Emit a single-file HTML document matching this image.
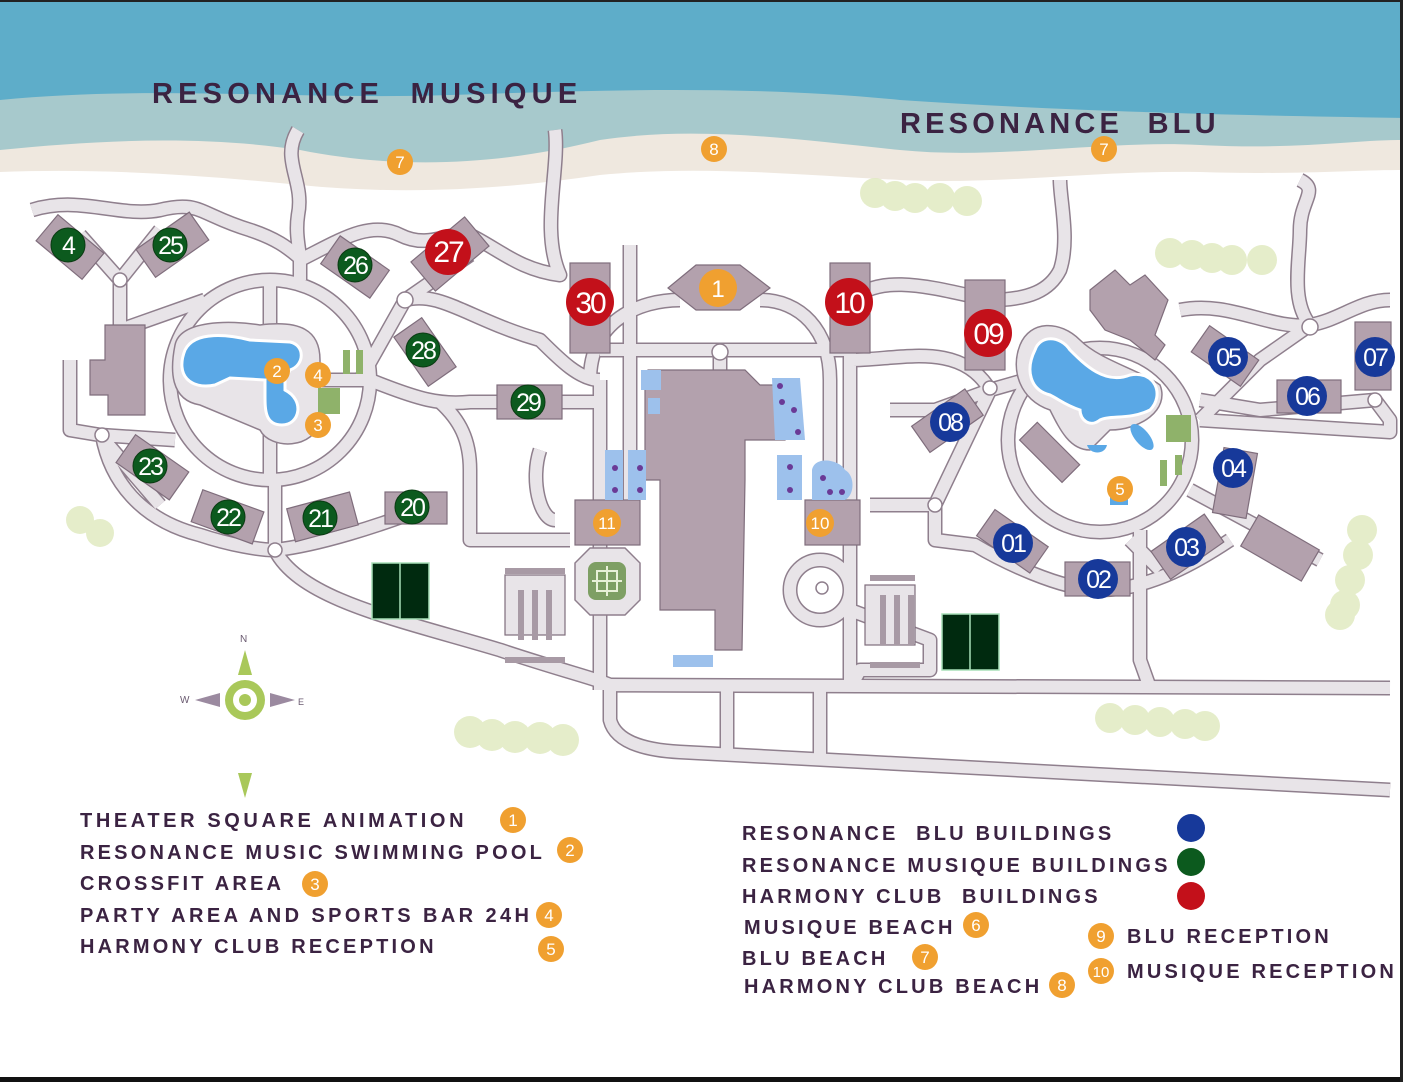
<!DOCTYPE html>
<html><head><meta charset="utf-8"><style>
html,body{margin:0;padding:0;background:#fff}
svg{display:block}
text{font-family:"Liberation Sans",sans-serif}
.lg{font-weight:bold;font-size:20px;letter-spacing:3.2px;fill:#3b2342}
.mk{fill:#fff;font-size:25px;text-anchor:middle;letter-spacing:-2px}
.om{fill:#fff;font-size:17px;text-anchor:middle}
</style></head><body>
<svg width="1403" height="1082" viewBox="0 0 1403 1082" xmlns="http://www.w3.org/2000/svg">
<defs>
<g id="roads">
<circle cx="270" cy="380" r="100"/>
<circle cx="1100" cy="440" r="92"/>
<path d="M32,210 C80,195 120,218 160,210 C200,200 200,215 250,230 C280,240 290,250 300,258"/>
<path d="M120,280 L160,230 M120,280 L80,235 M120,280 L120,330 L205,300"/>
<path d="M300,260 L300,280 M298,130 C280,160 305,180 298,215 C295,235 300,250 300,260"/>
<path d="M300,260 C340,240 370,220 400,235 C430,250 450,230 470,235 C500,250 520,270 560,275 C540,230 560,170 555,130"/>
<path d="M405,300 C440,290 470,320 540,340 C560,360 580,380 600,380"/>
<path d="M360,380 L405,300 M405,300 L470,255"/>
<path d="M70,360 L70,430 L100,435 L175,440 M100,435 L160,505 M275,480 L275,550 M102,435 C110,480 140,520 200,535 C230,545 260,550 275,550 C320,545 380,525 420,510"/>
<path d="M270,280 L270,480 M170,380 L370,380"/>
<path d="M370,380 C420,400 440,405 470,402 L600,402"/>
<path d="M440,402 C460,420 470,440 470,470 L470,540 L570,540"/>
<path d="M275,550 C300,600 400,620 500,650 C560,670 600,680 610,685"/>
<path d="M610,685 L1390,688 M610,685 L610,720 C615,740 640,750 680,752 L1390,790"/>
<path d="M727,688 L727,752 M820,688 L820,755"/>
<path d="M600,380 L600,690 M630,245 L630,530 M600,350 L850,350 M590,380 C590,320 640,300 680,300 M760,300 C800,300 830,330 830,380 L830,530"/>
<path d="M850,300 L850,680 M850,360 C900,360 960,340 990,390 M850,302 C880,270 940,290 990,300 C1030,300 1050,290 1060,270 C1070,240 1060,200 1060,180"/>
<path d="M990,390 L1025,380 M990,390 L935,410 L890,410 M990,390 L935,505 L870,505"/>
<path d="M935,505 L935,540 L975,545 C1000,560 1060,590 1100,590 C1150,590 1200,560 1230,540 M1140,530 L1140,660 L1150,688"/>
<path d="M1180,310 C1230,300 1270,330 1310,325 C1340,320 1360,300 1390,300 M1310,325 C1290,300 1300,260 1300,230 C1300,200 1320,190 1300,180 M1310,325 L1260,360 L1200,420 M1200,400 L1260,410 L1375,400 L1390,420 L1390,432 L1200,420"/>
<path d="M1190,490 L1320,560 M1130,540 L1160,570"/>
<path d="M540,450 C530,480 540,520 555,520 M720,350 L720,370"/>
<path d="M820,590 m-30,0 a30,30 0 1,0 60,0 a30,30 0 1,0 -60,0 M850,610 L930,640 L930,670 L860,670 L850,688"/>
</g>
</defs>

<rect x="0" y="0" width="1403" height="200" fill="#5eadc9"/>
<path d="M0,100 C150,85 300,100 450,95 C600,90 750,85 900,100 C1050,110 1200,115 1403,118 L1403,200 L0,200 Z" fill="#a7c9cc"/>
<path d="M0,150 C100,140 200,135 300,150 C400,170 500,165 600,140 C700,125 800,140 900,150 C1000,160 1100,140 1200,145 C1300,150 1350,140 1403,140 L1403,200 L0,200 Z" fill="#efe8df"/>
<path d="M0,172 C100,168 200,175 300,185 C400,195 500,190 600,175 C700,165 800,175 900,180 C1000,185 1100,170 1200,172 C1300,175 1350,170 1403,170 L1403,210 L0,210 Z" fill="#fff"/>
<rect x="0" y="0" width="1403" height="2" fill="#222"/>

<g fill="#dfe9bd" opacity="0.8">
<circle cx="875" cy="193" r="15"/><circle cx="895" cy="196" r="15"/><circle cx="915" cy="198" r="15"/><circle cx="940" cy="198" r="15"/><circle cx="967" cy="201" r="15"/>
<circle cx="1170" cy="253" r="15"/><circle cx="1192" cy="255" r="15"/><circle cx="1212" cy="258" r="15"/><circle cx="1232" cy="260" r="15"/><circle cx="1262" cy="260" r="15"/>
<circle cx="80" cy="520" r="14"/><circle cx="100" cy="533" r="14"/>
<circle cx="470" cy="732" r="16"/><circle cx="492" cy="735" r="16"/><circle cx="515" cy="737" r="16"/><circle cx="540" cy="738" r="16"/><circle cx="563" cy="740" r="16"/>
<circle cx="1110" cy="718" r="15"/><circle cx="1135" cy="720" r="15"/><circle cx="1160" cy="722" r="15"/><circle cx="1185" cy="724" r="15"/><circle cx="1205" cy="726" r="15"/>
<circle cx="1362" cy="530" r="15"/><circle cx="1358" cy="555" r="15"/><circle cx="1350" cy="580" r="15"/><circle cx="1345" cy="605" r="15"/><circle cx="1340" cy="615" r="15"/>
</g>

<use href="#roads" fill="none" stroke="#8f7f8d" stroke-width="15" stroke-linejoin="round"/>
<use href="#roads" fill="none" stroke="#e8e4e8" stroke-width="12" stroke-linejoin="round"/>
<g fill="#fff" stroke="#8f7f8d" stroke-width="1.5">
<circle cx="120" cy="280" r="7"/><circle cx="405" cy="300" r="8"/><circle cx="102" cy="435" r="7"/><circle cx="275" cy="550" r="7"/><circle cx="990" cy="388" r="7"/><circle cx="935" cy="505" r="7"/><circle cx="1310" cy="327" r="8"/><circle cx="1375" cy="400" r="7"/><circle cx="720" cy="352" r="8"/><circle cx="822" cy="588" r="6"/>
</g>

<path d="M175,345 C180,320 230,320 260,325 C300,320 320,330 320,360 L320,420 C315,450 270,450 260,430 L200,405 C170,400 170,370 175,345Z" fill="#e8e4e8" stroke="#8f7f8d" stroke-width="1.5"/>
<path d="M185,350 C195,330 230,335 250,340 L290,342 C305,345 305,365 290,370 L285,380 L285,390 C305,400 300,425 282,425 C265,425 265,410 265,395 L265,380 L230,378 L215,385 C190,390 175,375 185,350Z" fill="#5aa8e6" stroke="#fff" stroke-width="3"/>
<path d="M1020,345 C1030,320 1060,320 1080,340 C1100,360 1140,370 1160,385 C1170,410 1140,430 1110,430 L1090,450 C1070,450 1060,430 1050,410 C1020,400 1010,370 1020,345Z" fill="#e8e4e8" stroke="#8f7f8d" stroke-width="1.5"/>
<path d="M1035,350 C1040,335 1060,335 1070,350 C1085,365 1105,385 1130,375 C1155,370 1165,395 1150,410 C1130,420 1110,415 1100,420 C1090,428 1080,420 1080,410 C1065,405 1060,400 1050,395 C1030,390 1025,370 1035,350Z" fill="#5aa8e6" stroke="#fff" stroke-width="3"/>
<ellipse cx="1142" cy="437" rx="7" ry="16" transform="rotate(-40 1142 437)" fill="#5aa8e6"/>
<path d="M1087,445 L1107,445 C1105,455 1090,455 1087,445Z" fill="#5aa8e6"/>

<g fill="#b3a1ad" stroke="#7f6d7c" stroke-width="1.2">
<rect x="40" y="230" width="60" height="34" transform="rotate(40 70 247)"/>
<rect x="140" y="228" width="65" height="34" transform="rotate(-35 172 245)"/>
<rect x="325" y="250" width="60" height="34" transform="rotate(35 355 267)"/>
<rect x="415" y="235" width="70" height="38" transform="rotate(-40 450 254)"/>
<path d="M105,325 L145,325 L145,415 L108,415 L108,395 L90,395 L90,360 L105,360Z"/>
<rect x="395" y="335" width="60" height="34" transform="rotate(55 425 352)"/>
<rect x="497" y="385" width="65" height="34"/>
<rect x="120" y="450" width="65" height="34" transform="rotate(35 152 467)"/>
<rect x="195" y="500" width="65" height="34" transform="rotate(20 228 517)"/>
<rect x="290" y="500" width="65" height="34" transform="rotate(-15 322 517)"/>
<rect x="385" y="492" width="62" height="32"/>
<rect x="570" y="263" width="40" height="90"/>
<rect x="830" y="263" width="40" height="90"/>
<rect x="965" y="280" width="40" height="90"/>
<path d="M696,265 L740,265 L770,288 L740,310 L696,310 L668,288Z"/>
<path d="M648,370 L745,370 L760,385 L785,385 L785,440 L745,440 L745,475 L745,480 L742,650 L715,650 L715,610 L660,610 L660,480 L645,480 L645,385Z"/>
<rect x="575" y="500" width="65" height="45"/>
<rect x="805" y="500" width="55" height="45"/>
<path d="M1090,290 L1115,270 L1130,285 L1145,275 L1168,300 L1155,335 L1165,345 L1155,360 L1130,340 L1105,330 L1090,310Z"/>
<rect x="1020" y="440" width="60" height="25" transform="rotate(45 1050 452)"/>
<rect x="1195" y="340" width="60" height="32" transform="rotate(35 1225 356)"/>
<rect x="1355" y="322" width="36" height="68"/>
<rect x="1277" y="380" width="64" height="33"/>
<rect x="915" y="405" width="65" height="32" transform="rotate(-35 947 421)"/>
<rect x="1218" y="450" width="34" height="66" transform="rotate(10 1235 483)"/>
<rect x="1245" y="530" width="70" height="36" transform="rotate(30 1280 548)"/>
<rect x="980" y="525" width="65" height="32" transform="rotate(35 1012 541)"/>
<rect x="1065" y="562" width="65" height="34"/>
<rect x="1155" y="530" width="65" height="34" transform="rotate(-35 1187 547)"/>
<rect x="505" y="575" width="60" height="60" fill="#e8e4e8"/>
<rect x="865" y="585" width="50" height="60" fill="#e8e4e8"/>
</g>
<g fill="#a89aa5">
<rect x="518" y="590" width="6" height="50"/><rect x="532" y="590" width="6" height="50"/><rect x="546" y="590" width="6" height="50"/>
<rect x="880" y="595" width="6" height="50"/><rect x="894" y="595" width="6" height="50"/><rect x="908" y="595" width="6" height="50"/>
<rect x="505" y="568" width="60" height="6"/><rect x="505" y="657" width="60" height="6"/>
<rect x="870" y="575" width="45" height="6"/><rect x="870" y="662" width="50" height="6"/>
</g>
<path d="M590,548 L625,548 L640,563 L640,600 L625,615 L590,615 L575,600 L575,563Z" fill="#e8e4e8" stroke="#8f7f8d" stroke-width="1.5"/>
<rect x="588" y="562" width="38" height="38" rx="8" fill="#7e9f64"/>
<path d="M592,581 H622 M607,566 V596 M597,571 H617 V591 H597Z" stroke="#e8f0d8" stroke-width="2" fill="none"/>
<g fill="#9dc1ec">
<rect x="641" y="370" width="20" height="20"/><rect x="648" y="398" width="12" height="16"/>
<rect x="605" y="450" width="18" height="50"/><rect x="628" y="450" width="18" height="50"/>
<path d="M772,378 L800,378 L805,440 L775,440Z"/><rect x="777" y="455" width="25" height="45"/>
<path d="M812,470 C815,455 840,460 845,470 C855,475 855,495 845,500 L812,500Z"/>
<rect x="673" y="655" width="40" height="12"/>
</g>
<g fill="#6a3a96">
<circle cx="780" cy="386" r="3"/><circle cx="782" cy="402" r="3"/><circle cx="794" cy="410" r="3"/><circle cx="798" cy="432" r="3"/>
<circle cx="615" cy="468" r="3"/><circle cx="615" cy="490" r="3"/><circle cx="640" cy="468" r="3"/><circle cx="640" cy="490" r="3"/>
<circle cx="790" cy="467" r="3"/><circle cx="790" cy="490" r="3"/><circle cx="823" cy="478" r="3"/><circle cx="830" cy="492" r="3"/><circle cx="842" cy="492" r="3"/>
</g>
<g fill="#8fb26a">
<rect x="343" y="350" width="7" height="24"/><rect x="356" y="350" width="7" height="24"/><rect x="318" y="388" width="22" height="26"/>
<rect x="1166" y="415" width="25" height="27"/><rect x="1160" y="460" width="7" height="26"/><rect x="1175" y="455" width="7" height="20"/>
</g>
<rect x="1110" y="490" width="18" height="15" fill="#5aa8e6"/>
<g stroke="#a8e0b8" stroke-width="1.5" fill="#002a0f">
<rect x="372" y="563" width="57" height="56"/><line x1="400" y1="563" x2="400" y2="619"/>
<rect x="942" y="614" width="57" height="56"/><line x1="970" y1="614" x2="970" y2="670"/>
</g>

<g fill="#0c5a1e" stroke="#0a3a12" stroke-width="1">
<circle cx="68" cy="245" r="17"/><circle cx="170" cy="245" r="17"/><circle cx="355" cy="265" r="17"/><circle cx="423" cy="350" r="17"/><circle cx="528" cy="402" r="17"/><circle cx="150" cy="466" r="17"/><circle cx="228" cy="517" r="17"/><circle cx="320" cy="518" r="17"/><circle cx="412" cy="507" r="17"/>
</g>
<g fill="#c3101a"><circle cx="448" cy="252" r="23"/><circle cx="590" cy="302" r="24"/><circle cx="849" cy="302" r="24"/><circle cx="988" cy="333" r="24"/></g>
<g fill="#17399a"><circle cx="1228" cy="357" r="20"/><circle cx="1375" cy="357" r="20"/><circle cx="1307" cy="396" r="20"/><circle cx="950" cy="422" r="20"/><circle cx="1233" cy="468" r="20"/><circle cx="1013" cy="543" r="20"/><circle cx="1098" cy="579" r="20"/><circle cx="1186" cy="547" r="20"/></g>
<g class="mk">
<text x="68" y="254">4</text><text x="170" y="254">25</text><text x="355" y="274">26</text><text x="423" y="359">28</text><text x="528" y="411">29</text><text x="150" y="475">23</text><text x="228" y="526">22</text><text x="320" y="527">21</text><text x="412" y="516">20</text>
<text x="448" y="262" font-size="30">27</text><text x="590" y="313" font-size="30">30</text><text x="849" y="313" font-size="30">10</text><text x="988" y="344" font-size="30">09</text>
<text x="1228" y="366">05</text><text x="1375" y="366">07</text><text x="1307" y="405">06</text><text x="950" y="431">08</text><text x="1233" y="477">04</text><text x="1013" y="552">01</text><text x="1098" y="588">02</text><text x="1186" y="556">03</text>
</g>
<g fill="#f0a030"><circle cx="400" cy="162" r="13"/><circle cx="714" cy="149" r="13"/><circle cx="1104" cy="149" r="13"/><circle cx="718" cy="288" r="19"/><circle cx="277" cy="371" r="13"/><circle cx="318" cy="375" r="13"/><circle cx="318" cy="425" r="13"/><circle cx="607" cy="523" r="14"/><circle cx="820" cy="523" r="14"/><circle cx="1120" cy="489" r="13"/></g>
<g class="om">
<text x="400" y="168">7</text><text x="714" y="155">8</text><text x="1104" y="155">7</text><text x="718" y="297" font-size="24">1</text><text x="277" y="377">2</text><text x="318" y="381">4</text><text x="318" y="431">3</text><text x="607" y="529">11</text><text x="820" y="529">10</text><text x="1120" y="495">5</text>
</g>

<text x="152" y="103" class="lg" style="font-size:29px;letter-spacing:5.2px">RESONANCE&#160;&#160;MUSIQUE</text>
<text x="900" y="133" class="lg" style="font-size:29px;letter-spacing:4.2px">RESONANCE&#160;&#160;BLU</text>

<g>
<polygon points="245,650 238,675 252,675" fill="#a9c85a"/>
<polygon points="195,700 220,693 220,707" fill="#9b8aa0"/>
<polygon points="295,700 270,693 270,707" fill="#9b8aa0"/>
<polygon points="245,798 238,773 252,773" fill="#a9c85a"/>
<circle cx="245" cy="700" r="20" fill="#a9c85a"/><circle cx="245" cy="700" r="12" fill="#fff"/><circle cx="245" cy="700" r="6" fill="#a9c85a"/>
<text x="240" y="642" font-size="10" fill="#6a5a70">N</text><text x="180" y="703" font-size="10" fill="#6a5a70">W</text><text x="298" y="705" font-size="9" fill="#6a5a70">E</text>
</g>

<g class="lg">
<text x="80" y="827" style="letter-spacing:3.6px">THEATER SQUARE ANIMATION</text>
<text x="80" y="859">RESONANCE MUSIC SWIMMING POOL</text>
<text x="80" y="890">CROSSFIT AREA</text>
<text x="80" y="922" style="letter-spacing:3.4px">PARTY AREA AND SPORTS BAR 24H</text>
<text x="80" y="953">HARMONY CLUB RECEPTION</text>
<text x="742" y="840">RESONANCE&#160; BLU BUILDINGS</text>
<text x="742" y="872">RESONANCE MUSIQUE BUILDINGS</text>
<text x="742" y="903">HARMONY CLUB&#160; BUILDINGS</text>
<text x="744" y="934">MUSIQUE BEACH</text>
<text x="742" y="965">BLU BEACH</text>
<text x="744" y="993">HARMONY CLUB BEACH</text>
<text x="1127" y="943">BLU RECEPTION</text>
<text x="1127" y="978">MUSIQUE RECEPTION</text>
</g>
<circle cx="1191" cy="828" r="14" fill="#17399a"/><circle cx="1191" cy="862" r="14" fill="#0c5a1e"/><circle cx="1191" cy="896" r="14" fill="#c3101a"/>
<g fill="#f0a030"><circle cx="513" cy="820" r="13"/><circle cx="570" cy="850" r="13"/><circle cx="315" cy="884" r="13"/><circle cx="549" cy="915" r="13"/><circle cx="551" cy="949" r="13"/><circle cx="976" cy="925" r="13"/><circle cx="925" cy="957" r="13"/><circle cx="1062" cy="985" r="13"/><circle cx="1101" cy="936" r="13"/><circle cx="1101" cy="971" r="13"/></g>
<g class="om">
<text x="513" y="826">1</text><text x="570" y="856">2</text><text x="315" y="890">3</text><text x="549" y="921">4</text><text x="551" y="955">5</text><text x="976" y="931">6</text><text x="925" y="963">7</text><text x="1062" y="991">8</text><text x="1101" y="942">9</text><text x="1101" y="977" font-size="15">10</text>
</g>
<rect x="0" y="1077" width="1403" height="5" fill="#111"/>
<rect x="1400" y="0" width="3" height="1082" fill="#222"/>
</svg>
</body></html>
